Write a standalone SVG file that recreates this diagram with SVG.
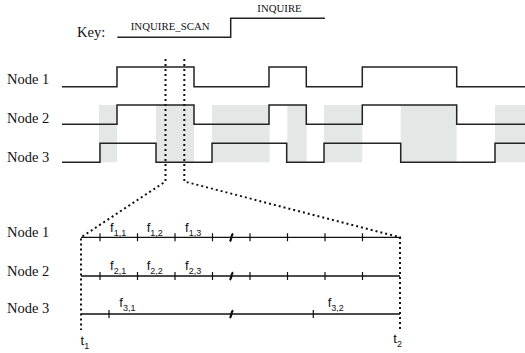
<svg xmlns="http://www.w3.org/2000/svg" width="525" height="353" viewBox="0 0 525 353">
<style>
.serif{font-family:"Liberation Serif","Times New Roman",serif;fill:#111}
.sans{font-family:"Liberation Sans",Arial,sans-serif;fill:#111}
.sig{fill:none;stroke:#222;stroke-width:1.5}
.shade{fill:#e5e6e6}
.ax{fill:none;stroke:#111;stroke-width:1.3}
.tick{stroke:#111;stroke-width:1.2}
.dot{fill:none;stroke:#111;stroke-width:2;stroke-dasharray:2 3}
.brk{fill:none;stroke:#111;stroke-width:2.2}
.f{font-size:13px}
.sub{font-size:9px}
</style>
<g id="key">
<text class="serif" x="77" y="36.7" font-size="14.5">Key:</text>
<path class="sig" d="M117.3,37.3 H230.7 V18.3 H325"/>
<text class="serif" x="130.7" y="30" font-size="10.8" textLength="79" lengthAdjust="spacingAndGlyphs">INQUIRE_SCAN</text>
<text class="serif" x="257.3" y="11.5" font-size="10.8" textLength="44.4" lengthAdjust="spacingAndGlyphs">INQUIRE</text>
</g>
<g id="shading">
<rect class="shade" x="99" y="105" width="18" height="57.3"/>
<rect class="shade" x="156" y="105" width="38" height="57.3"/>
<rect class="shade" x="212" y="105" width="57.7" height="57.3"/>
<rect class="shade" x="287.3" y="105" width="19.4" height="57.3"/>
<rect class="shade" x="324" y="105" width="38.3" height="57.3"/>
<rect class="shade" x="400.7" y="105" width="56" height="57.3"/>
<rect class="shade" x="495" y="105" width="30" height="57.3"/>
</g>
<g id="top-node1">
<text class="serif" x="7" y="84.3" font-size="14.5">Node 1</text>
<path class="sig" d="M62,86.7 H117 V67 H194 V86.7 H269 V67 H306.3 V86.7 H362.3 V67 H456.7 V86.7 H525"/>
</g>
<g id="top-node2">
<text class="serif" x="7" y="123.3" font-size="14.5">Node 2</text>
<path class="sig" d="M62,124.3 H117 V105 H194 V124.3 H269 V105 H306.3 V124.3 H362.3 V105 H456.7 V124.3 H525"/>
</g>
<g id="top-node3">
<text class="serif" x="7" y="161.7" font-size="14.5">Node 3</text>
<path class="sig" d="M62,162.3 H100 V143.3 H156 V162.3 H212 V143.3 H286.7 V162.3 H324 V143.3 H400.7 V162.3 H495 V143.3 H525"/>
</g>
<g id="bottom-node1">
<text class="serif" x="7" y="236.5" font-size="14.5">Node 1</text>
<path class="ax" d="M81,237.3 H400"/>
<path class="tick" d="M100,233.3 v8 M137.5,233.3 v8 M175,233.3 v8 M212.5,233.3 v8 M250,233.3 v8 M287.5,233.3 v8 M325,233.3 v8 M362.5,233.3 v8"/>
<path class="brk" d="M229.8,241.3 C232,239.5 230.5,236 233,233.5"/>
<text class="sans f" x="110" y="231.7">f<tspan class="sub" dy="4">1,1</tspan></text>
<text class="sans f" x="146.7" y="231.7">f<tspan class="sub" dy="4">1,2</tspan></text>
<text class="sans f" x="185" y="231.7">f<tspan class="sub" dy="4">1,3</tspan></text>
</g>
<g id="bottom-node2">
<text class="serif" x="7" y="276" font-size="14.5">Node 2</text>
<path class="ax" d="M81,276 H400"/>
<path class="tick" d="M100,272 v8 M137.5,272 v8 M175,272 v8 M212.5,272 v8 M250,272 v8 M287.5,272 v8 M325,272 v8 M362.5,272 v8"/>
<path class="brk" d="M229.8,280 C232,278.2 230.5,274.7 233,272.2"/>
<text class="sans f" x="110" y="270.3">f<tspan class="sub" dy="4">2,1</tspan></text>
<text class="sans f" x="146.7" y="270.3">f<tspan class="sub" dy="4">2,2</tspan></text>
<text class="sans f" x="185" y="270.3">f<tspan class="sub" dy="4">2,3</tspan></text>
</g>
<g id="bottom-node3">
<text class="serif" x="7" y="313" font-size="14.5">Node 3</text>
<path class="ax" d="M81,314 H400"/>
<path class="tick" d="M109,310 v8 M313.3,310 v8"/>
<path class="brk" d="M229.8,318 C232,316.2 230.5,312.7 233,310.2"/>
<text class="sans f" x="119.3" y="306.7">f<tspan class="sub" dy="4">3,1</tspan></text>
<text class="sans f" x="327.7" y="306.7">f<tspan class="sub" dy="4">3,2</tspan></text>
</g>
<g id="connectors">
<path class="dot" d="M165.5,59 V181.5 L81,237.3 V330"/>
<path class="dot" d="M184.3,59 V181.5 L400,237.3 V330"/>
</g>
<g id="time-labels">
<text class="sans f" x="80.5" y="345">t<tspan class="sub" dy="4">1</tspan></text>
<text class="sans f" x="393.3" y="343">t<tspan class="sub" dy="4">2</tspan></text>
</g>
</svg>
